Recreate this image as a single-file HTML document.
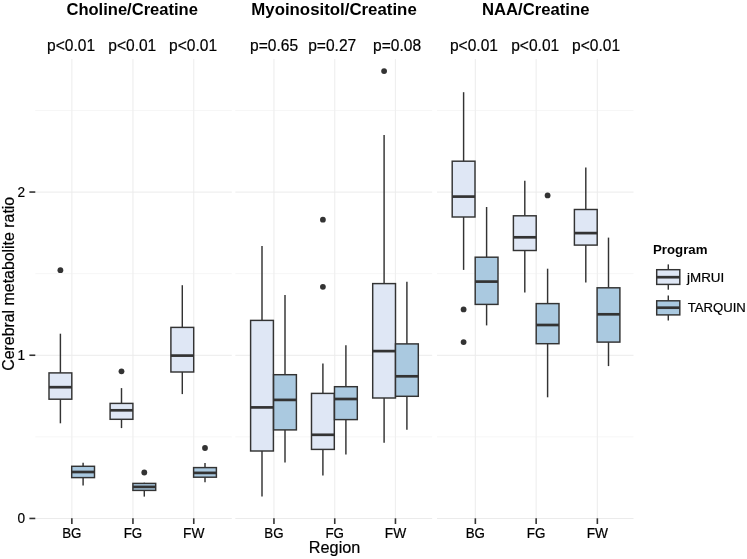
<!DOCTYPE html><html><head><meta charset="utf-8"><style>html,body{margin:0;padding:0;background:#fff;width:747px;height:559px;overflow:hidden}svg{display:block;will-change:transform}text{font-family:"Liberation Sans",sans-serif}</style></head><body>
<svg width="747" height="559" viewBox="0 0 747 559">
<rect width="747" height="559" fill="#fff"/>
<line x1="35.3" x2="231.8" y1="436.9" y2="436.9" stroke="#F6F6F6" stroke-width="1"/>
<line x1="35.3" x2="231.8" y1="273.7" y2="273.7" stroke="#F6F6F6" stroke-width="1"/>
<line x1="35.3" x2="231.8" y1="110.5" y2="110.5" stroke="#F6F6F6" stroke-width="1"/>
<line x1="71.85" x2="71.85" y1="59.0" y2="518.45" stroke="#EFEFEF" stroke-width="1.2"/>
<line x1="132.95" x2="132.95" y1="59.0" y2="518.45" stroke="#EFEFEF" stroke-width="1.2"/>
<line x1="193.75" x2="193.75" y1="59.0" y2="518.45" stroke="#EFEFEF" stroke-width="1.2"/>
<line x1="35.3" x2="231.8" y1="518.5" y2="518.5" stroke="#EBEBEB" stroke-width="1"/>
<line x1="35.3" x2="231.8" y1="355.3" y2="355.3" stroke="#EBEBEB" stroke-width="1"/>
<line x1="35.3" x2="231.8" y1="192.1" y2="192.1" stroke="#EBEBEB" stroke-width="1"/>
<line x1="235.3" x2="432.2" y1="436.9" y2="436.9" stroke="#F6F6F6" stroke-width="1"/>
<line x1="235.3" x2="432.2" y1="273.7" y2="273.7" stroke="#F6F6F6" stroke-width="1"/>
<line x1="235.3" x2="432.2" y1="110.5" y2="110.5" stroke="#F6F6F6" stroke-width="1"/>
<line x1="273.95" x2="273.95" y1="59.0" y2="518.45" stroke="#EFEFEF" stroke-width="1.2"/>
<line x1="334.75" x2="334.75" y1="59.0" y2="518.45" stroke="#EFEFEF" stroke-width="1.2"/>
<line x1="395.45" x2="395.45" y1="59.0" y2="518.45" stroke="#EFEFEF" stroke-width="1.2"/>
<line x1="235.3" x2="432.2" y1="518.5" y2="518.5" stroke="#EBEBEB" stroke-width="1"/>
<line x1="235.3" x2="432.2" y1="355.3" y2="355.3" stroke="#EBEBEB" stroke-width="1"/>
<line x1="235.3" x2="432.2" y1="192.1" y2="192.1" stroke="#EBEBEB" stroke-width="1"/>
<line x1="437.0" x2="633.5" y1="436.9" y2="436.9" stroke="#F6F6F6" stroke-width="1"/>
<line x1="437.0" x2="633.5" y1="273.7" y2="273.7" stroke="#F6F6F6" stroke-width="1"/>
<line x1="437.0" x2="633.5" y1="110.5" y2="110.5" stroke="#F6F6F6" stroke-width="1"/>
<line x1="475.35" x2="475.35" y1="59.0" y2="518.45" stroke="#EFEFEF" stroke-width="1.2"/>
<line x1="536.15" x2="536.15" y1="59.0" y2="518.45" stroke="#EFEFEF" stroke-width="1.2"/>
<line x1="597.35" x2="597.35" y1="59.0" y2="518.45" stroke="#EFEFEF" stroke-width="1.2"/>
<line x1="437.0" x2="633.5" y1="518.5" y2="518.5" stroke="#EBEBEB" stroke-width="1"/>
<line x1="437.0" x2="633.5" y1="355.3" y2="355.3" stroke="#EBEBEB" stroke-width="1"/>
<line x1="437.0" x2="633.5" y1="192.1" y2="192.1" stroke="#EBEBEB" stroke-width="1"/>
<line x1="60.4" x2="60.4" y1="333.7" y2="372.9" stroke="#333333" stroke-width="1.45"/>
<line x1="60.4" x2="60.4" y1="399.2" y2="423.3" stroke="#333333" stroke-width="1.45"/>
<rect x="49.00" y="372.9" width="22.80" height="26.30" fill="#DFE7F5" stroke="#333333" stroke-width="1.45"/>
<line x1="49.00" x2="71.80" y1="387.2" y2="387.2" stroke="#333333" stroke-width="2.7"/>
<circle cx="60.4" cy="270.2" r="2.9" fill="#333333"/>
<line x1="83.1" x2="83.1" y1="462.7" y2="466.3" stroke="#333333" stroke-width="1.45"/>
<line x1="83.1" x2="83.1" y1="477.6" y2="485.4" stroke="#333333" stroke-width="1.45"/>
<rect x="71.70" y="466.3" width="22.80" height="11.30" fill="#AAC9E0" stroke="#333333" stroke-width="1.45"/>
<line x1="71.70" x2="94.50" y1="472.0" y2="472.0" stroke="#333333" stroke-width="2.7"/>
<line x1="121.5" x2="121.5" y1="388.1" y2="403.4" stroke="#333333" stroke-width="1.45"/>
<line x1="121.5" x2="121.5" y1="419.3" y2="428.1" stroke="#333333" stroke-width="1.45"/>
<rect x="110.10" y="403.4" width="22.80" height="15.90" fill="#DFE7F5" stroke="#333333" stroke-width="1.45"/>
<line x1="110.10" x2="132.90" y1="410.3" y2="410.3" stroke="#333333" stroke-width="2.7"/>
<circle cx="121.5" cy="371.3" r="2.9" fill="#333333"/>
<line x1="144.3" x2="144.3" y1="482.7" y2="483.4" stroke="#333333" stroke-width="1.45"/>
<line x1="144.3" x2="144.3" y1="490.4" y2="496.6" stroke="#333333" stroke-width="1.45"/>
<rect x="132.90" y="483.4" width="22.80" height="7.00" fill="#AAC9E0" stroke="#333333" stroke-width="1.45"/>
<line x1="132.90" x2="155.70" y1="486.9" y2="486.9" stroke="#333333" stroke-width="2.7"/>
<circle cx="144.3" cy="472.5" r="2.9" fill="#333333"/>
<line x1="182.3" x2="182.3" y1="285.2" y2="327.4" stroke="#333333" stroke-width="1.45"/>
<line x1="182.3" x2="182.3" y1="372.0" y2="394.1" stroke="#333333" stroke-width="1.45"/>
<rect x="170.90" y="327.4" width="22.80" height="44.60" fill="#DFE7F5" stroke="#333333" stroke-width="1.45"/>
<line x1="170.90" x2="193.70" y1="355.6" y2="355.6" stroke="#333333" stroke-width="2.7"/>
<line x1="205.0" x2="205.0" y1="463.0" y2="467.6" stroke="#333333" stroke-width="1.45"/>
<line x1="205.0" x2="205.0" y1="477.2" y2="482.3" stroke="#333333" stroke-width="1.45"/>
<rect x="193.60" y="467.6" width="22.80" height="9.60" fill="#AAC9E0" stroke="#333333" stroke-width="1.45"/>
<line x1="193.60" x2="216.40" y1="472.9" y2="472.9" stroke="#333333" stroke-width="2.7"/>
<circle cx="205.0" cy="448.0" r="2.9" fill="#333333"/>
<line x1="262.0" x2="262.0" y1="245.9" y2="320.4" stroke="#333333" stroke-width="1.45"/>
<line x1="262.0" x2="262.0" y1="451.0" y2="496.4" stroke="#333333" stroke-width="1.45"/>
<rect x="250.60" y="320.4" width="22.80" height="130.60" fill="#DFE7F5" stroke="#333333" stroke-width="1.45"/>
<line x1="250.60" x2="273.40" y1="407.4" y2="407.4" stroke="#333333" stroke-width="2.7"/>
<line x1="285.0" x2="285.0" y1="295.0" y2="374.7" stroke="#333333" stroke-width="1.45"/>
<line x1="285.0" x2="285.0" y1="429.9" y2="462.6" stroke="#333333" stroke-width="1.45"/>
<rect x="273.60" y="374.7" width="22.80" height="55.20" fill="#AAC9E0" stroke="#333333" stroke-width="1.45"/>
<line x1="273.60" x2="296.40" y1="399.9" y2="399.9" stroke="#333333" stroke-width="2.7"/>
<line x1="322.9" x2="322.9" y1="363.4" y2="393.4" stroke="#333333" stroke-width="1.45"/>
<line x1="322.9" x2="322.9" y1="449.4" y2="475.5" stroke="#333333" stroke-width="1.45"/>
<rect x="311.50" y="393.4" width="22.80" height="56.00" fill="#DFE7F5" stroke="#333333" stroke-width="1.45"/>
<line x1="311.50" x2="334.30" y1="434.8" y2="434.8" stroke="#333333" stroke-width="2.7"/>
<circle cx="322.9" cy="219.7" r="2.9" fill="#333333"/>
<circle cx="322.9" cy="286.8" r="2.9" fill="#333333"/>
<line x1="345.9" x2="345.9" y1="345.3" y2="386.7" stroke="#333333" stroke-width="1.45"/>
<line x1="345.9" x2="345.9" y1="419.6" y2="454.4" stroke="#333333" stroke-width="1.45"/>
<rect x="334.50" y="386.7" width="22.80" height="32.90" fill="#AAC9E0" stroke="#333333" stroke-width="1.45"/>
<line x1="334.50" x2="357.30" y1="399.0" y2="399.0" stroke="#333333" stroke-width="2.7"/>
<line x1="384.1" x2="384.1" y1="135.0" y2="283.6" stroke="#333333" stroke-width="1.45"/>
<line x1="384.1" x2="384.1" y1="398.0" y2="442.7" stroke="#333333" stroke-width="1.45"/>
<rect x="372.70" y="283.6" width="22.80" height="114.40" fill="#DFE7F5" stroke="#333333" stroke-width="1.45"/>
<line x1="372.70" x2="395.50" y1="351.1" y2="351.1" stroke="#333333" stroke-width="2.7"/>
<circle cx="384.1" cy="71.1" r="2.9" fill="#333333"/>
<line x1="406.9" x2="406.9" y1="281.7" y2="343.9" stroke="#333333" stroke-width="1.45"/>
<line x1="406.9" x2="406.9" y1="396.3" y2="429.8" stroke="#333333" stroke-width="1.45"/>
<rect x="395.50" y="343.9" width="22.80" height="52.40" fill="#AAC9E0" stroke="#333333" stroke-width="1.45"/>
<line x1="395.50" x2="418.30" y1="376.3" y2="376.3" stroke="#333333" stroke-width="2.7"/>
<line x1="463.6" x2="463.6" y1="92.2" y2="161.2" stroke="#333333" stroke-width="1.45"/>
<line x1="463.6" x2="463.6" y1="217.0" y2="269.9" stroke="#333333" stroke-width="1.45"/>
<rect x="452.20" y="161.2" width="22.80" height="55.80" fill="#DFE7F5" stroke="#333333" stroke-width="1.45"/>
<line x1="452.20" x2="475.00" y1="196.6" y2="196.6" stroke="#333333" stroke-width="2.7"/>
<circle cx="463.6" cy="309.4" r="2.9" fill="#333333"/>
<circle cx="463.6" cy="342.1" r="2.9" fill="#333333"/>
<line x1="486.6" x2="486.6" y1="207.0" y2="257.2" stroke="#333333" stroke-width="1.45"/>
<line x1="486.6" x2="486.6" y1="304.4" y2="325.4" stroke="#333333" stroke-width="1.45"/>
<rect x="475.20" y="257.2" width="22.80" height="47.20" fill="#AAC9E0" stroke="#333333" stroke-width="1.45"/>
<line x1="475.20" x2="498.00" y1="281.6" y2="281.6" stroke="#333333" stroke-width="2.7"/>
<line x1="524.8" x2="524.8" y1="180.7" y2="215.8" stroke="#333333" stroke-width="1.45"/>
<line x1="524.8" x2="524.8" y1="250.5" y2="292.6" stroke="#333333" stroke-width="1.45"/>
<rect x="513.40" y="215.8" width="22.80" height="34.70" fill="#DFE7F5" stroke="#333333" stroke-width="1.45"/>
<line x1="513.40" x2="536.20" y1="237.3" y2="237.3" stroke="#333333" stroke-width="2.7"/>
<line x1="547.6" x2="547.6" y1="268.7" y2="303.6" stroke="#333333" stroke-width="1.45"/>
<line x1="547.6" x2="547.6" y1="343.7" y2="397.3" stroke="#333333" stroke-width="1.45"/>
<rect x="536.20" y="303.6" width="22.80" height="40.10" fill="#AAC9E0" stroke="#333333" stroke-width="1.45"/>
<line x1="536.20" x2="559.00" y1="325.0" y2="325.0" stroke="#333333" stroke-width="2.7"/>
<circle cx="547.6" cy="195.4" r="2.9" fill="#333333"/>
<line x1="585.8" x2="585.8" y1="167.6" y2="209.5" stroke="#333333" stroke-width="1.45"/>
<line x1="585.8" x2="585.8" y1="245.1" y2="282.6" stroke="#333333" stroke-width="1.45"/>
<rect x="574.40" y="209.5" width="22.80" height="35.60" fill="#DFE7F5" stroke="#333333" stroke-width="1.45"/>
<line x1="574.40" x2="597.20" y1="233.1" y2="233.1" stroke="#333333" stroke-width="2.7"/>
<line x1="608.5" x2="608.5" y1="237.6" y2="287.8" stroke="#333333" stroke-width="1.45"/>
<line x1="608.5" x2="608.5" y1="342.1" y2="366.1" stroke="#333333" stroke-width="1.45"/>
<rect x="597.10" y="287.8" width="22.80" height="54.30" fill="#AAC9E0" stroke="#333333" stroke-width="1.45"/>
<line x1="597.10" x2="619.90" y1="314.3" y2="314.3" stroke="#333333" stroke-width="2.7"/>
<line x1="29.4" x2="35.3" y1="518.45" y2="518.45" stroke="#333333" stroke-width="1.6"/>
<line x1="29.4" x2="35.3" y1="355.25" y2="355.25" stroke="#333333" stroke-width="1.6"/>
<line x1="29.4" x2="35.3" y1="192.05" y2="192.05" stroke="#333333" stroke-width="1.6"/>
<line x1="71.85" x2="71.85" y1="518.3" y2="524" stroke="#333333" stroke-width="1.6"/>
<line x1="132.95" x2="132.95" y1="518.3" y2="524" stroke="#333333" stroke-width="1.6"/>
<line x1="193.75" x2="193.75" y1="518.3" y2="524" stroke="#333333" stroke-width="1.6"/>
<line x1="273.95" x2="273.95" y1="518.3" y2="524" stroke="#333333" stroke-width="1.6"/>
<line x1="334.75" x2="334.75" y1="518.3" y2="524" stroke="#333333" stroke-width="1.6"/>
<line x1="395.45" x2="395.45" y1="518.3" y2="524" stroke="#333333" stroke-width="1.6"/>
<line x1="475.35" x2="475.35" y1="518.3" y2="524" stroke="#333333" stroke-width="1.6"/>
<line x1="536.15" x2="536.15" y1="518.3" y2="524" stroke="#333333" stroke-width="1.6"/>
<line x1="597.35" x2="597.35" y1="518.3" y2="524" stroke="#333333" stroke-width="1.6"/>
<text x="25.2" y="523.45" font-size="14.4" text-anchor="end" font-weight="normal" fill="#000" stroke="#000" stroke-width="0.2" textLength="7.6" lengthAdjust="spacingAndGlyphs">0</text>
<text x="25.2" y="360.25000000000006" font-size="14.4" text-anchor="end" font-weight="normal" fill="#000" stroke="#000" stroke-width="0.2" textLength="7.6" lengthAdjust="spacingAndGlyphs">1</text>
<text x="25.2" y="197.05000000000007" font-size="14.4" text-anchor="end" font-weight="normal" fill="#000" stroke="#000" stroke-width="0.2" textLength="7.6" lengthAdjust="spacingAndGlyphs">2</text>
<text x="71.85" y="537.5" font-size="14.2" text-anchor="middle" font-weight="normal" fill="#000" stroke="#000" stroke-width="0.2" textLength="19.3" lengthAdjust="spacingAndGlyphs">BG</text>
<text x="132.95" y="537.5" font-size="14.2" text-anchor="middle" font-weight="normal" fill="#000" stroke="#000" stroke-width="0.2" textLength="18.6" lengthAdjust="spacingAndGlyphs">FG</text>
<text x="193.75" y="537.5" font-size="14.2" text-anchor="middle" font-weight="normal" fill="#000" stroke="#000" stroke-width="0.2" textLength="21.4" lengthAdjust="spacingAndGlyphs">FW</text>
<text x="273.95" y="537.5" font-size="14.2" text-anchor="middle" font-weight="normal" fill="#000" stroke="#000" stroke-width="0.2" textLength="19.3" lengthAdjust="spacingAndGlyphs">BG</text>
<text x="334.75" y="537.5" font-size="14.2" text-anchor="middle" font-weight="normal" fill="#000" stroke="#000" stroke-width="0.2" textLength="18.6" lengthAdjust="spacingAndGlyphs">FG</text>
<text x="395.45" y="537.5" font-size="14.2" text-anchor="middle" font-weight="normal" fill="#000" stroke="#000" stroke-width="0.2" textLength="21.4" lengthAdjust="spacingAndGlyphs">FW</text>
<text x="475.35" y="537.5" font-size="14.2" text-anchor="middle" font-weight="normal" fill="#000" stroke="#000" stroke-width="0.2" textLength="19.3" lengthAdjust="spacingAndGlyphs">BG</text>
<text x="536.15" y="537.5" font-size="14.2" text-anchor="middle" font-weight="normal" fill="#000" stroke="#000" stroke-width="0.2" textLength="18.6" lengthAdjust="spacingAndGlyphs">FG</text>
<text x="597.35" y="537.5" font-size="14.2" text-anchor="middle" font-weight="normal" fill="#000" stroke="#000" stroke-width="0.2" textLength="21.4" lengthAdjust="spacingAndGlyphs">FW</text>
<text x="132.2" y="14.8" font-size="17.3" text-anchor="middle" font-weight="bold" fill="#000" textLength="131.5" lengthAdjust="spacingAndGlyphs">Choline/Creatine</text>
<text x="334.0" y="14.8" font-size="17.3" text-anchor="middle" font-weight="bold" fill="#000" textLength="165.5" lengthAdjust="spacingAndGlyphs">Myoinositol/Creatine</text>
<text x="535.7" y="14.8" font-size="17.3" text-anchor="middle" font-weight="bold" fill="#000" textLength="107.5" lengthAdjust="spacingAndGlyphs">NAA/Creatine</text>
<text x="71.05" y="50.8" font-size="16.7" text-anchor="middle" font-weight="normal" fill="#000" stroke="#000" stroke-width="0.2" textLength="48.0" lengthAdjust="spacingAndGlyphs">p&lt;0.01</text>
<text x="132.25" y="50.8" font-size="16.7" text-anchor="middle" font-weight="normal" fill="#000" stroke="#000" stroke-width="0.2" textLength="48.0" lengthAdjust="spacingAndGlyphs">p&lt;0.01</text>
<text x="193.1" y="50.8" font-size="16.7" text-anchor="middle" font-weight="normal" fill="#000" stroke="#000" stroke-width="0.2" textLength="48.0" lengthAdjust="spacingAndGlyphs">p&lt;0.01</text>
<text x="274.05" y="50.8" font-size="16.7" text-anchor="middle" font-weight="normal" fill="#000" stroke="#000" stroke-width="0.2" textLength="48.0" lengthAdjust="spacingAndGlyphs">p=0.65</text>
<text x="332.2" y="50.8" font-size="16.7" text-anchor="middle" font-weight="normal" fill="#000" stroke="#000" stroke-width="0.2" textLength="48.0" lengthAdjust="spacingAndGlyphs">p=0.27</text>
<text x="397.1" y="50.8" font-size="16.7" text-anchor="middle" font-weight="normal" fill="#000" stroke="#000" stroke-width="0.2" textLength="48.0" lengthAdjust="spacingAndGlyphs">p=0.08</text>
<text x="473.95" y="50.8" font-size="16.7" text-anchor="middle" font-weight="normal" fill="#000" stroke="#000" stroke-width="0.2" textLength="48.0" lengthAdjust="spacingAndGlyphs">p&lt;0.01</text>
<text x="535.2" y="50.8" font-size="16.7" text-anchor="middle" font-weight="normal" fill="#000" stroke="#000" stroke-width="0.2" textLength="48.0" lengthAdjust="spacingAndGlyphs">p&lt;0.01</text>
<text x="596.05" y="50.8" font-size="16.7" text-anchor="middle" font-weight="normal" fill="#000" stroke="#000" stroke-width="0.2" textLength="48.0" lengthAdjust="spacingAndGlyphs">p&lt;0.01</text>
<text x="334.6" y="553.1" font-size="17.2" text-anchor="middle" font-weight="normal" fill="#000" stroke="#000" stroke-width="0.2" textLength="51.5" lengthAdjust="spacingAndGlyphs">Region</text>
<text transform="translate(14.4,283.8) rotate(-90)" x="0" y="0" font-size="16.7" text-anchor="middle" fill="#000" stroke="#000" stroke-width="0.2" textLength="174" lengthAdjust="spacingAndGlyphs">Cerebral metabolite ratio</text>
<text x="653.0" y="253.8" font-size="13.5" text-anchor="start" font-weight="bold" fill="#000" textLength="54.5" lengthAdjust="spacingAndGlyphs">Program</text>
<line x1="668.3" x2="668.3" y1="264.4" y2="269.7" stroke="#333333" stroke-width="1.45"/>
<line x1="668.3" x2="668.3" y1="284.4" y2="289.7" stroke="#333333" stroke-width="1.45"/>
<rect x="656.7" y="269.7" width="23.1" height="14.7" fill="#DFE7F5" stroke="#333333" stroke-width="1.45"/>
<line x1="656.7" x2="679.8" y1="277.2" y2="277.2" stroke="#333333" stroke-width="2.7"/>
<text x="687.0" y="281.7" font-size="12.7" text-anchor="start" font-weight="normal" fill="#000" stroke="#000" stroke-width="0.2" textLength="37.2" lengthAdjust="spacingAndGlyphs">jMRUI</text>
<line x1="668.3" x2="668.3" y1="295.5" y2="300.8" stroke="#333333" stroke-width="1.45"/>
<line x1="668.3" x2="668.3" y1="314.9" y2="320.5" stroke="#333333" stroke-width="1.45"/>
<rect x="656.7" y="300.8" width="23.1" height="14.1" fill="#AAC9E0" stroke="#333333" stroke-width="1.45"/>
<line x1="656.7" x2="679.8" y1="307.7" y2="307.7" stroke="#333333" stroke-width="2.7"/>
<text x="687.8" y="311.5" font-size="12.7" text-anchor="start" font-weight="normal" fill="#000" stroke="#000" stroke-width="0.2" textLength="58.0" lengthAdjust="spacingAndGlyphs">TARQUIN</text>
</svg></body></html>
